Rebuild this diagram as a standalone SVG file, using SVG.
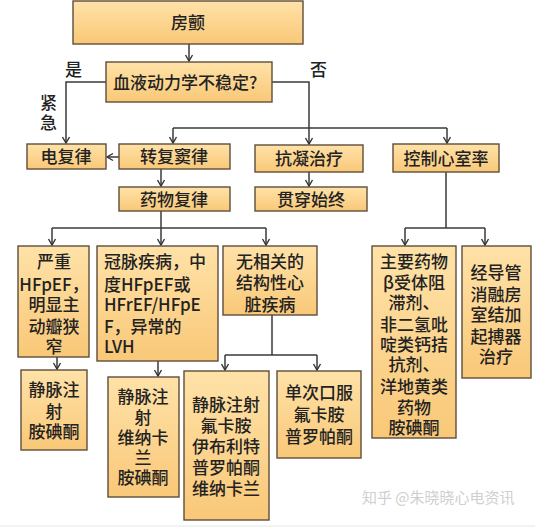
<svg xmlns="http://www.w3.org/2000/svg" width="535" height="528" viewBox="0 0 535 528">
<defs>
<linearGradient id="g" x1="0" y1="0" x2="0" y2="1">
<stop offset="0" stop-color="#FFE2A8"/>
<stop offset="1" stop-color="#F9C878"/>
</linearGradient>
<marker id="a" markerWidth="10" markerHeight="10" refX="8" refY="5" orient="auto" markerUnits="userSpaceOnUse">
<path d="M2,1.5 L8,5 L2,8.5" fill="none" stroke="#333" stroke-width="1.4"/>
</marker>
</defs>
<style>
.b{fill:url(#g);stroke:#5e4d3b;stroke-width:1.4}
.t{font-family:"Noto Sans CJK SC","Noto Sans",sans-serif;font-size:17px;fill:#222;text-anchor:middle;font-weight:500}
.l{font-family:"Noto Sans CJK SC","Noto Sans",sans-serif;font-size:17px;fill:#222;font-weight:500}
.c path{fill:none;stroke:#3a3a3a;stroke-width:1.5}
.w{font-family:"Noto Sans CJK SC",sans-serif;font-size:15px;fill:#cfcfcf}
</style>
<rect width="535" height="528" fill="#fff"/>
<line x1="0" y1="526" x2="535" y2="526" stroke="#e6e6e6" stroke-width="1"/>
<g class="c" id="connectors">
<path d="M189,44 V61" marker-end="url(#a)"/>
<path d="M106,82 H66 V143" marker-end="url(#a)"/>
<path d="M272,82 H309 V128"/>
<path d="M173,128 H447"/>
<path d="M173,128 V143" marker-end="url(#a)"/>
<path d="M309,128 V144" marker-end="url(#a)"/>
<path d="M447,128 V143" marker-end="url(#a)"/>
<path d="M119,157 H107" marker-end="url(#a)"/>
<path d="M161,169 V186" marker-end="url(#a)"/>
<path d="M309,172 V186" marker-end="url(#a)"/>
<path d="M161,211 V228"/>
<path d="M52,228 H266"/>
<path d="M52,228 V245" marker-end="url(#a)"/>
<path d="M161,228 V245" marker-end="url(#a)"/>
<path d="M266,228 V245" marker-end="url(#a)"/>
<path d="M446,172 V228"/>
<path d="M405,228 H485"/>
<path d="M405,228 V245" marker-end="url(#a)"/>
<path d="M485,228 V245" marker-end="url(#a)"/>
<path d="M57,357 V369" marker-end="url(#a)"/>
<path d="M158,361 V376" marker-end="url(#a)"/>
<path d="M272,315 V355"/>
<path d="M225,355 H317"/>
<path d="M225,355 V370" marker-end="url(#a)"/>
<path d="M317,355 V370" marker-end="url(#a)"/>
</g>
<text class="l" x="65" y="76">是</text>
<text class="l" x="310" y="76">否</text>
<text class="l" x="40" y="109">紧</text>
<text class="l" x="40" y="129">急</text>
<g id="n1"><rect class="b" x="73" y="1" width="230" height="43"/><text class="t" x="188" y="29">房颤</text></g>
<g id="n2"><rect class="b" x="106" y="62" width="166" height="40"/><text class="l" x="113" y="89">血液动力学不稳定?</text></g>
<g id="n3"><rect class="b" x="27" y="144" width="79" height="25"/><text class="t" x="66" y="163">电复律</text></g>
<g id="n4"><rect class="b" x="119" y="144" width="111" height="25"/><text class="t" x="174" y="163">转复窦律</text></g>
<g id="n5"><rect class="b" x="255" y="145" width="108" height="27"/><text class="t" x="309" y="165">抗凝治疗</text></g>
<g id="n6"><rect class="b" x="393" y="144" width="106" height="28"/><text class="t" x="446" y="165">控制心室率</text></g>
<g id="n7"><rect class="b" x="119" y="187" width="111" height="24"/><text class="t" x="174" y="206">药物复律</text></g>
<g id="n8"><rect class="b" x="255" y="187" width="112" height="24"/><text class="t" x="311" y="206">贯穿始终</text></g>
<g id="n9"><rect class="b" x="18" y="246" width="71" height="111"/>
<text class="t" x="54"><tspan x="54" y="268">严重</tspan><tspan x="54" y="291">HFpEF，</tspan><tspan x="54" y="311">明显主</tspan><tspan x="54" y="333">动瓣狭</tspan><tspan x="54" y="353">窄</tspan></text></g>
<g id="n10"><rect class="b" x="97" y="246" width="121" height="115"/>
<text class="l"><tspan x="104" y="268">冠脉疾病，中</tspan><tspan x="104" y="291">度HFpEF或</tspan><tspan x="104" y="311">HFrEF/HFpE</tspan><tspan x="104" y="333">F，异常的</tspan><tspan x="104" y="353">LVH</tspan></text></g>
<g id="n11"><rect class="b" x="223" y="246" width="94" height="69"/>
<text class="t"><tspan x="270" y="268">无相关的</tspan><tspan x="270" y="289">结构性心</tspan><tspan x="270" y="311">脏疾病</tspan></text></g>
<g id="n12"><rect class="b" x="372" y="246" width="84" height="192"/>
<text class="t"><tspan x="414" y="268">主要药物</tspan><tspan x="414" y="289">β受体阻</tspan><tspan x="414" y="309">滞剂、</tspan><tspan x="414" y="331">非二氢吡</tspan><tspan x="414" y="351">啶类钙拮</tspan><tspan x="414" y="371">抗剂、</tspan><tspan x="414" y="393">洋地黄类</tspan><tspan x="414" y="414">药物</tspan><tspan x="414" y="434">胺碘酮</tspan></text></g>
<g id="n13"><rect class="b" x="462" y="246" width="69" height="132"/>
<text class="t"><tspan x="496" y="279">经导管</tspan><tspan x="496" y="301">消融房</tspan><tspan x="496" y="321">室结加</tspan><tspan x="496" y="343">起搏器</tspan><tspan x="496" y="363">治疗</tspan></text></g>
<g id="n14"><rect class="b" x="21" y="370" width="66" height="80"/>
<text class="t"><tspan x="54" y="396">静脉注</tspan><tspan x="54" y="418">射</tspan><tspan x="54" y="438">胺碘酮</tspan></text></g>
<g id="n15"><rect class="b" x="108" y="377" width="71" height="120"/>
<text class="t"><tspan x="143" y="403">静脉注</tspan><tspan x="143" y="424">射</tspan><tspan x="143" y="444">维纳卡</tspan><tspan x="143" y="464">兰</tspan><tspan x="143" y="484">胺碘酮</tspan></text></g>
<g id="n16"><rect class="b" x="184" y="371" width="85" height="149"/>
<text class="t"><tspan x="226" y="411">静脉注射</tspan><tspan x="226" y="432">氟卡胺</tspan><tspan x="226" y="453">伊布利特</tspan><tspan x="226" y="474">普罗帕酮</tspan><tspan x="226" y="495">维纳卡兰</tspan></text></g>
<g id="n17"><rect class="b" x="277" y="371" width="84" height="87"/>
<text class="t"><tspan x="319" y="399">单次口服</tspan><tspan x="319" y="421">氟卡胺</tspan><tspan x="319" y="443">普罗帕酮</tspan></text></g>
<text class="w" x="362" y="503">知乎 @朱晓晓心电资讯</text>
</svg>
